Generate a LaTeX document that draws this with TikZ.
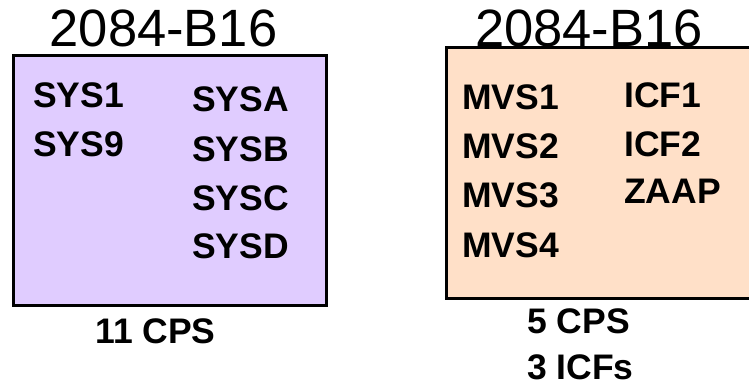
\documentclass[tikz,border=0pt]{standalone}
\usepackage{fontspec}
\setmainfont{Liberation Sans}
\definecolor{lav}{RGB}{224,204,255}
\definecolor{peach}{RGB}{255,224,200}
\begin{document}
\begin{tikzpicture}[x=1pt,y=-1pt,
  box/.style={draw=black,line width=3pt},
  title/.style={anchor=base,inner sep=0pt,font=\fontsize{52.5}{52.5}\selectfont},
  lbl/.style={anchor=base west,inner sep=0pt,font=\fontsize{35.5}{35.5}\selectfont\bfseries},
  cnt/.style={anchor=base,inner sep=0pt,font=\fontsize{35.5}{35.5}\selectfont\bfseries}]
\useasboundingbox (0,0) rectangle (749,385);
% left machine
\path[box,fill=lav] (13,56) rectangle (326,305);
\node[title] (t1) at (163.5,47) {2084-B16};
\node[lbl] (s1) at (33,108) {SYS1};
\node[lbl] (s9) at (33,157) {SYS9};
\node[lbl] (sa) at (192,112) {SYSA};
\node[lbl] (sb) at (192,161) {SYSB};
\node[lbl] (sc) at (192,210) {SYSC};
\node[lbl] (sd) at (192,258) {SYSD};
\node[cnt] (c1) at (155.5,343) {11 CPS};
% right machine
\path[box,fill=peach] (446,48) rectangle (760,298);
\node[title] (t2) at (589,47) {2084-B16};
\node[lbl] (m1) at (462,110) {MVS1};
\node[lbl] (m2) at (462,158) {MVS2};
\node[lbl] (m3) at (462,207) {MVS3};
\node[lbl] (m4) at (462,257) {MVS4};
\node[lbl] (i1) at (624,107) {ICF1};
\node[lbl] (i2) at (624,156) {ICF2};
\node[lbl] (z1) at (624,203) {ZAAP};
\node[lbl] (c2) at (527,333) {5 CPS};
\node[lbl] (c3) at (527,379) {3 ICFs};
\end{tikzpicture}
\end{document}
